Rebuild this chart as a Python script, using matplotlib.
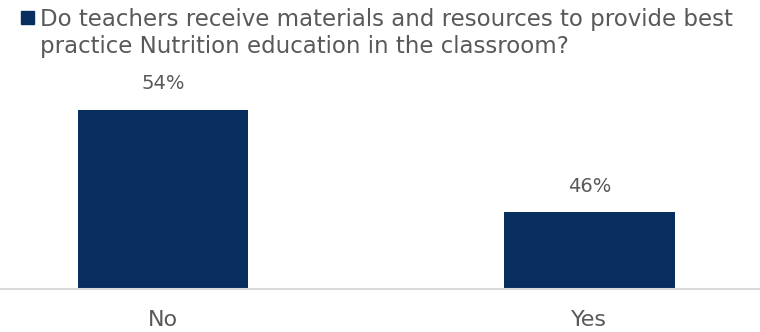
import matplotlib
matplotlib.use("Agg")
import matplotlib.pyplot as plt
from matplotlib.patches import Rectangle

categories = ["No", "Yes"]
values = [54, 46]
series_name = ("Do teachers receive materials and resources to provide best\n"
               "practice Nutrition education in the classroom?")

BAR_COLOR = "#072E5E"
TEXT_COLOR = "#595959"
AXIS_COLOR = "#D9D9D9"

plt.rcParams["font.family"] = ["DejaVu Sans"]

W, H = 760, 332
fig = plt.figure(figsize=(W / 100, H / 100), dpi=100)

# plot area: baseline at y=289 px, spans full width
ymin, ymax = 40, 60
px_per_unit = 12.79
base_px = 289
top_px = base_px - (ymax - ymin) * px_per_unit
ax = fig.add_axes([0, (H - base_px) / H, 1, (base_px - top_px) / H])

x = list(range(len(categories)))
bars = ax.bar(x, values, width=0.4, color=BAR_COLOR, zorder=2)
ax.set_ylim(ymin, ymax)
ax.set_xlim(-0.382, 1.4)

for b, v in zip(bars, values):
    ax.text(b.get_x() + b.get_width() / 2, v + 1.3, f"{v}%",
            ha="center", va="bottom", fontsize=14, color=TEXT_COLOR)

for s in ("top", "left", "right"):
    ax.spines[s].set_visible(False)
ax.spines["bottom"].set_color(AXIS_COLOR)
ax.spines["bottom"].set_linewidth(1.5)
ax.set_yticks([])
ax.set_xticks(x)
ax.set_xticklabels(categories, fontsize=16, color=TEXT_COLOR)
ax.tick_params(axis="x", length=0, pad=15)

# legend: square marker with wrapped series name
fig.patches.append(Rectangle((21 / W, 1 - 24 / H), 12.5 / W, 12.5 / H,
                             transform=fig.transFigure, color=BAR_COLOR))
fig.text(40 / W, 1 - 8 / H, series_name, ha="left", va="top",
         fontsize=16.5, color=TEXT_COLOR, linespacing=1.25)

fig.savefig("out.png", dpi=100)
